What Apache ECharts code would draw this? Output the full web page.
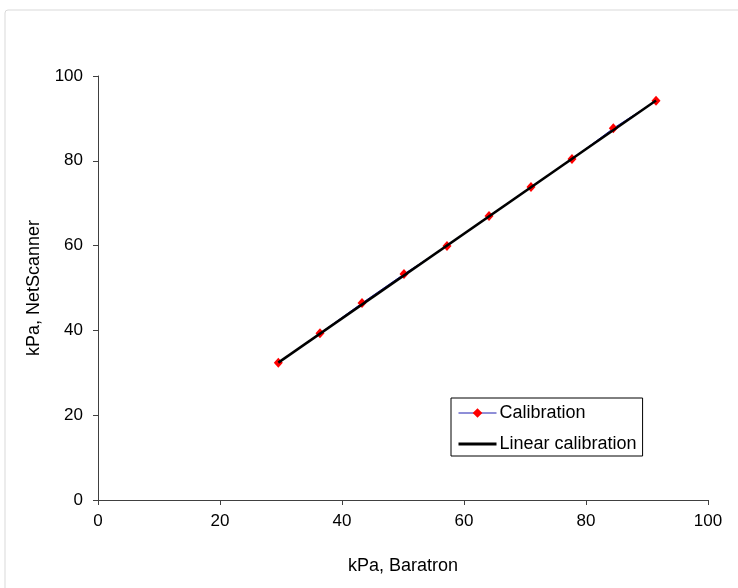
<!DOCTYPE html>
<html>
<head>
<meta charset="utf-8">
<script src="https://cdn.jsdelivr.net/npm/echarts@6/dist/echarts.min.js"></script>
<style>
  html, body { margin: 0; padding: 0; background: #fff; }
  #chart { width: 738px; height: 588px; }
</style>
</head>
<body>
<div id="chart"></div>
<script>
// measured calibration points (Baratron vs NetScanner, kPa)
const baratron = [29.56, 36.39, 43.28, 50.16, 57.21, 64.10, 70.98, 77.70, 84.48, 91.48];
const netScanner = [32.38, 39.32, 46.46, 53.30, 59.91, 66.98, 73.82, 80.42, 87.67, 94.17];
// endpoints of the fitted line
const fitX = [29.56, 91.48];
const fitY = [32.4, 94.2];
const axisTicks = [0, 20, 40, 60, 80, 100];

const font = "Liberation Sans, Arial, sans-serif";
const chart = echarts.init(document.getElementById("chart"), null, { renderer: "canvas" });

const option = {
  backgroundColor: "#fff",
  animation: false,
  textStyle: { fontFamily: font },
  graphic: [
    {
      type: "rect",
      shape: { x: 5, y: 10, width: 800, height: 700, r: 3 },
      style: { fill: "none", stroke: "#d9d9d9", lineWidth: 1 },
      silent: true,
    },
  ],
  grid: { left: 98, right: 30, top: 76, bottom: 88, containLabel: false },
  legend: {
    left: 451,
    top: 398,
    orient: "vertical",
    backgroundColor: "#fff",
    borderColor: "#000",
    borderWidth: 1,
    padding: [6, 6, 3, 6],
    itemWidth: 38,
    itemHeight: 12,
    itemGap: 13,
    textStyle: { fontSize: 18, color: "#000", fontFamily: font, padding: [0, 0, 0, -2] },
    data: [
      { name: "Calibration", lineStyle: { width: 1 } },
      { name: "Linear calibration", itemStyle: { opacity: 0 }, lineStyle: { width: 3 } },
    ],
  },
  xAxis: {
    type: "value",
    min: axisTicks[0],
    max: axisTicks[axisTicks.length - 1],
    interval: 20,
    name: "kPa, Baratron",
    nameLocation: "middle",
    nameGap: 57,
    nameTextStyle: { fontSize: 18, color: "#000", fontFamily: font },
    axisLine: { lineStyle: { color: "#404040", width: 1 } },
    axisTick: { show: true, length: 5, lineStyle: { color: "#404040" } },
    axisLabel: { fontSize: 17, color: "#000", margin: 13, fontFamily: font },
    splitLine: { show: false },
  },
  yAxis: {
    type: "value",
    min: axisTicks[0],
    max: axisTicks[axisTicks.length - 1],
    interval: 20,
    name: "kPa, NetScanner",
    nameLocation: "middle",
    nameGap: 55,
    nameTextStyle: { fontSize: 18, color: "#000", fontFamily: font },
    axisLine: { show: true, lineStyle: { color: "#404040", width: 1 } },
    axisTick: { show: true, length: 5, lineStyle: { color: "#404040" } },
    axisLabel: { fontSize: 17, color: "#000", margin: 15, fontFamily: font },
    splitLine: { show: false },
  },
  series: [
    {
      name: "Calibration",
      type: "line",
      z: 2,
      data: baratron.map((x, i) => [x, netScanner[i]]),
      symbol: "diamond",
      symbolSize: [9, 10],
      showSymbol: true,
      itemStyle: { color: "#ff0000" },
      lineStyle: { color: "#1f1fb0", width: 1 },
    },
    {
      name: "Linear calibration",
      type: "line",
      z: 3,
      data: fitX.map((x, i) => [x, fitY[i]]),
      symbol: "none",
      itemStyle: { color: "#000" },
      lineStyle: { color: "#000", width: 2.5 },
    },
  ],
};

chart.setOption(option);
</script>
</body>
</html>
